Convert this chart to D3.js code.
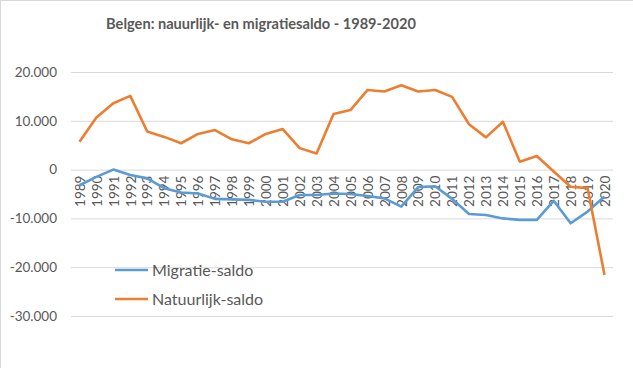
<!DOCTYPE html>
<html>
<head>
<meta charset="utf-8">
<script src="https://cdn.jsdelivr.net/npm/d3@7"></script>
<style>
  html, body { margin: 0; padding: 0; background: #fff; }
  svg { display: block; font-family: Lato, "Open Sans", sans-serif; }
</style>
</head>
<body>
<svg id="chart" width="633" height="368"></svg>
<script>
// jaren 1989-2020
const years = d3.range(1989, 2021).map(String);
const migratieSaldo = [
  -3200, -1500, 0, -1100, -1800, -3800, -4700, -4900, -6000, -6100,
  -6200, -6600, -6600, -5200, -5200, -4900, -5000, -5400, -5900, -7600,
  -3600, -3400, -6000, -9100, -9300, -10000, -10300, -10300, -6400, -11000,
  -8600, -5500
];
const natuurlijkSaldo = [
  5700, 10700, 13600, 15100, 7800, 6700, 5400, 7300, 8100, 6200,
  5400, 7300, 8300, 4400, 3300, 11400, 12200, 16300, 16000, 17300,
  16000, 16300, 14900, 9300, 6600, 9800, 1600, 2800, -400, -3500,
  -3800, -21600
];
const yTicks = [20000, 10000, 0, -10000, -20000, -30000];
const series = [
  { name: 'Migratie-saldo', values: migratieSaldo, color: '#5B9BD5' },
  { name: 'Natuurlijk-saldo', values: natuurlijkSaldo, color: '#ED7D31' },
];

const svg = d3.select('#chart');
const margin = { top: 72, right: 20, bottom: 52, left: 71 };
const width = 613 - margin.left;
const height = 316 - margin.top;

const nl = d3.formatLocale({ decimal: ',', thousands: '.', grouping: [3], currency: ['', ''], minus: '-' });
const fmt = nl.format(',');

// rand van het grafiekvlak
svg.append('rect')
    .attr('x', 0.5).attr('y', 0.5)
    .attr('width', 640).attr('height', 400)
    .attr('fill', 'none')
    .attr('stroke', '#d9d9d9');

svg.append('text')
    .attr('x', 261)
    .attr('y', 29)
    .attr('text-anchor', 'middle')
    .attr('font-size', 14.6)
    .attr('font-weight', 'bold')
    .attr('fill', '#595959')
    .text('Belgen: nauurlijk- en migratiesaldo - 1989-2020');

const g = svg.append('g').attr('transform', `translate(${margin.left}, ${margin.top})`);

const x = d3.scalePoint()
    .domain(years)
    .range([0, width])
    .padding(0.5);
const y = d3.scaleLinear()
    .domain([-30000, 20000])
    .range([height, 0]);

// rasterlijnen + y-labels
const yAxis = g.append('g')
    .call(d3.axisLeft(y).tickValues(yTicks).tickSize(-width).tickFormat(fmt).tickPadding(14));
yAxis.select('.domain').remove();
yAxis.selectAll('line').attr('stroke', '#d9d9d9');
yAxis.selectAll('text')
    .attr('fill', '#595959')
    .attr('font-size', 13.5)
    .attr('font-family', 'Lato, "Open Sans", sans-serif');

// x-labels, gedraaid, onder de nullijn
const xAxis = g.append('g')
    .attr('transform', `translate(0, ${y(0)})`)
    .call(d3.axisBottom(x).tickSize(0));
xAxis.select('.domain').remove();
xAxis.selectAll('text')
    .attr('fill', '#595959')
    .attr('font-size', 13.5)
    .attr('font-family', 'Lato, "Open Sans", sans-serif')
    .attr('text-anchor', 'end')
    .attr('dy', '0.35em')
    .attr('transform', 'translate(0, 6) rotate(-90)')
    .attr('x', 0)
    .attr('y', 0);

const line = d3.line()
    .x((d, i) => x(years[i]))
    .y((d) => y(d));

g.selectAll('path.serie')
    .data(series)
  .enter().append('path')
    .attr('class', 'serie')
    .attr('d', (d) => line(d.values))
    .attr('fill', 'none')
    .attr('stroke', (d) => d.color)
    .attr('stroke-width', 2.6)
    .attr('stroke-linejoin', 'round');

// legenda
const legend = svg.append('g').attr('transform', 'translate(115, 270)');
const item = legend.selectAll('g')
    .data(series)
  .enter().append('g')
    .attr('transform', (d, i) => `translate(0, ${i * 29})`);
item.append('line')
    .attr('x1', 0).attr('x2', 33)
    .attr('stroke', (d) => d.color)
    .attr('stroke-width', 2.6);
item.append('text')
    .attr('x', 37)
    .attr('dy', '0.35em')
    .attr('font-size', 16)
    .attr('fill', '#595959')
    .text((d) => d.name);
</script>
</body>
</html>
